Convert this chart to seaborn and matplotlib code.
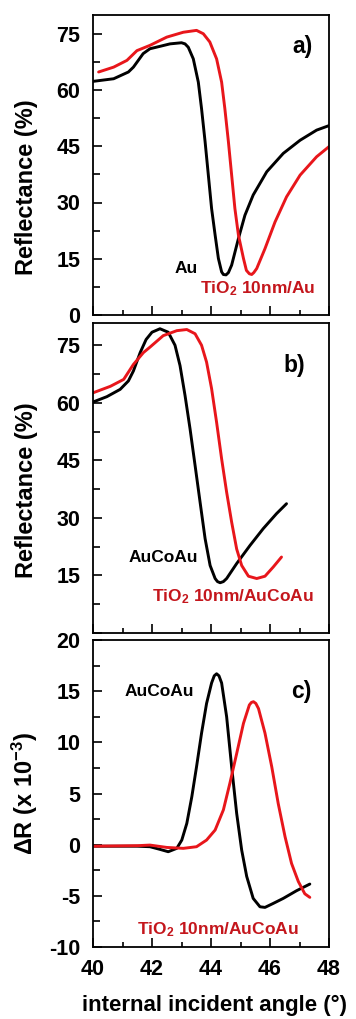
import matplotlib
matplotlib.use("Agg")
import numpy as np
import pandas as pd
import seaborn as sns
import matplotlib.pyplot as plt
from matplotlib.ticker import MultipleLocator

# ---------------- data ----------------
# Panel a: Au
a_au_x = [40.0, 40.7, 41.2, 41.37, 41.7, 41.93, 42.3, 42.61, 43.0, 43.12, 43.23, 43.40, 43.57,
          43.68, 43.80, 43.91, 44.02, 44.14, 44.25, 44.36, 44.42, 44.51, 44.59, 44.70, 44.93,
          45.15, 45.43, 45.89, 46.45, 47.02, 47.58, 48.0]
a_au_y = [62.3, 63.0, 64.8, 66.1, 69.7, 71.0, 71.7, 72.3, 72.6, 72.3, 71.4, 68.3, 62.1,
          55.0, 46.2, 37.3, 28.4, 21.3, 15.1, 11.5, 10.8, 10.7, 11.3, 13.3, 20.4,
          26.6, 32.0, 38.2, 43.1, 46.6, 49.3, 50.5]
# Panel a: TiO2 10nm/Au
a_ti_x = [40.19, 40.7, 41.15, 41.49, 41.93, 42.5, 43.06, 43.51, 43.74, 43.96, 44.19,
          44.36, 44.47, 44.59, 44.70, 44.81, 44.93, 45.10, 45.2, 45.30, 45.38, 45.45, 45.55,
          45.83, 46.17, 46.56, 47.02, 47.58, 48.0]
a_ti_y = [64.8, 66.1, 67.9, 70.5, 71.9, 74.1, 75.4, 75.9, 75.0, 72.8, 68.3,
          62.1, 55.0, 46.2, 37.3, 28.4, 21.3, 15.1, 11.9, 11.0, 10.8, 11.3, 12.4,
          17.7, 24.8, 31.5, 37.3, 42.2, 44.9]

# Panel b: AuCoAu
b_au_x = [40.0, 40.47, 40.92, 41.2, 41.37, 41.6, 41.8, 42.0, 42.27, 42.55, 42.78, 42.95,
          43.12, 43.29, 43.46, 43.63, 43.80, 43.97, 44.14, 44.22, 44.31, 44.42, 44.53,
          44.87, 45.32, 45.77, 46.22, 46.56]
b_au_y = [60.2, 61.6, 63.5, 65.7, 68.3, 73.1, 76.5, 78.4, 79.3, 78.4, 75.0, 69.7,
          61.9, 53.2, 43.7, 34.1, 24.6, 17.6, 14.2, 13.4, 13.1, 13.4, 14.2,
          18.1, 22.8, 27.2, 31.1, 33.7]
# Panel b: TiO2 10nm/AuCoAu
b_ti_x = [40.0, 40.59, 41.04, 41.37, 41.71, 41.93, 42.38, 42.84, 43.18, 43.46, 43.68,
          43.85, 44.02, 44.19, 44.36, 44.53, 44.70, 44.87, 45.04, 45.27, 45.55, 45.83,
          46.11, 46.39]
b_ti_y = [62.6, 64.3, 66.1, 70.0, 73.1, 74.5, 77.5, 78.8, 79.1, 78.0, 75.0,
          70.6, 63.7, 54.9, 45.4, 36.7, 28.9, 21.9, 17.6, 14.8, 14.2, 14.8,
          17.2, 19.8]

# Panel c: delta R, AuCoAu
c_au_x = [40.0, 41.5, 41.93, 42.27, 42.55, 42.84, 43.01, 43.18, 43.35, 43.51, 43.68,
          43.85, 44.02, 44.11, 44.19, 44.27, 44.36, 44.53, 44.70, 44.87, 45.04, 45.21,
          45.43, 45.66, 45.83, 46.11, 46.45, 46.90, 47.35]
c_au_y = [-0.15, -0.15, -0.2, -0.46, -0.69, -0.36, 0.45, 2.08, 4.69, 7.62, 10.9,
          13.8, 15.8, 16.5, 16.7, 16.5, 15.8, 12.5, 7.6, 3.06, -0.53, -3.1,
          -5.25, -6.07, -6.13, -5.74, -5.25, -4.5, -3.85]
# Panel c: delta R, TiO2 10nm/AuCoAu
c_ti_x = [40.0, 41.5, 41.93, 42.5, 43.06, 43.51, 43.85, 44.14, 44.42, 44.64, 44.87,
          45.10, 45.30, 45.37, 45.44, 45.52, 45.61, 45.83, 46.06, 46.28, 46.51, 46.73,
          46.96, 47.18, 47.35]
c_ti_y = [-0.15, -0.1, -0.04, -0.27, -0.36, -0.2, 0.45, 1.43, 3.4, 6.0, 8.9,
          11.85, 13.65, 13.9, 13.97, 13.8, 13.3, 10.9, 7.6, 4.0, 0.78, -1.83,
          -3.6, -4.8, -5.15]

x_ticks = [40, 42, 44, 46, 48]
x_ticklabels = ["40", "42", "44", "46", "48"]
a_yticks = [0, 15, 30, 45, 60, 75]
b_yticks = [0, 15, 30, 45, 60, 75]
b_yticklabels = ["", "15", "30", "45", "60", "75"]
c_yticks = [-10, -5, 0, 5, 10, 15, 20]

# ---------------- style ----------------
sns.set_theme(style="ticks")
plt.rcParams.update({
    "font.family": ["Liberation Sans", "DejaVu Sans"],
    "font.weight": "bold",
    "axes.labelweight": "bold",
    "mathtext.fontset": "custom",
    "mathtext.rm": "Liberation Sans:bold",
    "mathtext.bf": "Liberation Sans:bold",
    "mathtext.it": "Liberation Sans:bold",
    "mathtext.default": "regular",
    "axes.unicode_minus": False,
    "axes.linewidth": 1.3,
    "text.color": "black",
    "axes.labelcolor": "black",
    "xtick.color": "black",
    "ytick.color": "black",
    "axes.edgecolor": "black",
})

BLACK = "#000000"
RED = "#e8161b"
RED_TXT = "#c4161c"

fig = plt.figure(figsize=(3.56, 10.19), dpi=100)
W = 1019.0
left = 93 / 356
width = (329 - 93) / 356
ax_a = fig.add_axes([left, (W - 315) / W, width, 300 / W])
ax_b = fig.add_axes([left, (W - 633) / W, width, 310 / W])
ax_c = fig.add_axes([left, (W - 947) / W, width, 307 / W])


def draw(ax, x1, y1, x2, y2):
    d1 = pd.DataFrame({"x": x1, "y": y1})
    d2 = pd.DataFrame({"x": x2, "y": y2})
    sns.lineplot(data=d1, x="x", y="y", ax=ax, color=BLACK, lw=2.1, sort=False)
    sns.lineplot(data=d2, x="x", y="y", ax=ax, color=RED, lw=2.1, sort=False)


draw(ax_a, a_au_x, a_au_y, a_ti_x, a_ti_y)
draw(ax_b, b_au_x, b_au_y, b_ti_x, b_ti_y)
draw(ax_c, c_au_x, c_au_y, c_ti_x, c_ti_y)

for ax in (ax_a, ax_b, ax_c):
    ax.set_xlim(40, 48)
    ax.set_xticks(x_ticks)
    ax.xaxis.set_minor_locator(MultipleLocator(1))
    for s in ax.spines.values():
        s.set_visible(True)
        s.set_linewidth(1.3)
        s.set_color("black")
    ax.tick_params(axis="both", which="both", direction="in", top=False, right=False,
                   width=1.2, colors="black")
    ax.tick_params(axis="x", which="major", length=6.5, pad=8.5)
    ax.tick_params(axis="x", which="minor", length=3.5)
    ax.tick_params(axis="y", which="major", length=6.5, pad=9)
    ax.tick_params(axis="y", which="minor", length=5)
    ax.tick_params(axis="both", labelsize=15.5)
    ax.set_xlabel("")
    ax.set_ylabel("")

ax_a.set_xticklabels([])
ax_b.set_xticklabels([])
ax_c.set_xticklabels(x_ticklabels, fontweight="bold")

ax_a.set_ylim(0, 80)
ax_a.set_yticks(a_yticks)
ax_a.set_yticklabels([str(v) for v in a_yticks], fontweight="bold")
ax_a.yaxis.set_minor_locator(MultipleLocator(7.5))

ax_b.set_ylim(0, 80.8)
ax_b.set_yticks(b_yticks)
ax_b.set_yticklabels(b_yticklabels, fontweight="bold")
ax_b.yaxis.set_minor_locator(MultipleLocator(7.5))

ax_c.set_ylim(-10, 20)
ax_c.set_yticks(c_yticks)
ax_c.set_yticklabels([str(v) for v in c_yticks], fontweight="bold")
ax_c.yaxis.set_minor_locator(MultipleLocator(2.5))

# axis labels
ax_a.set_ylabel("Reflectance (%)", fontsize=17, fontweight="bold")
ax_a.yaxis.set_label_coords(-0.235, 0.427)
ax_b.set_ylabel("Reflectance (%)", fontsize=17, fontweight="bold")
ax_b.yaxis.set_label_coords(-0.235, 0.46)
ax_c.set_ylabel(r"ΔR (x 10$^{-3}$)", fontsize=17, fontweight="bold")
ax_c.yaxis.set_label_coords(-0.225, 0.5)
fig.text(214 / 356, (W - 1005) / W, "internal incident angle (°)", fontsize=16,
         fontweight="bold", ha="center", va="center")

# annotations
ax_a.text(47.46, 71.6, "a)", fontsize=16.5, fontweight="bold", ha="right", va="center")
ax_a.text(42.75, 12.5, "Au", fontsize=12.5, fontweight="bold", ha="left", va="center")
ax_a.text(43.63, 6.9, r"TiO$_2$ 10nm/Au", fontsize=12.5, fontweight="bold",
          color=RED_TXT, ha="left", va="center")

ax_b.text(47.19, 69.8, "b)", fontsize=16.5, fontweight="bold", ha="right", va="center")
ax_b.text(41.19, 19.8, "AuCoAu", fontsize=12.5, fontweight="bold", ha="left", va="center")
ax_b.text(42.0, 9.4, r"TiO$_2$ 10nm/AuCoAu", fontsize=12.5, fontweight="bold",
          color=RED_TXT, ha="left", va="center")

ax_c.text(47.42, 15.0, "c)", fontsize=16.5, fontweight="bold", ha="right", va="center")
ax_c.text(41.08, 15.0, "AuCoAu", fontsize=12.5, fontweight="bold", ha="left", va="center")
ax_c.text(41.49, -8.35, r"TiO$_2$ 10nm/AuCoAu", fontsize=12.5, fontweight="bold",
          color=RED_TXT, ha="left", va="center")

fig.savefig("out.png", dpi=100)
